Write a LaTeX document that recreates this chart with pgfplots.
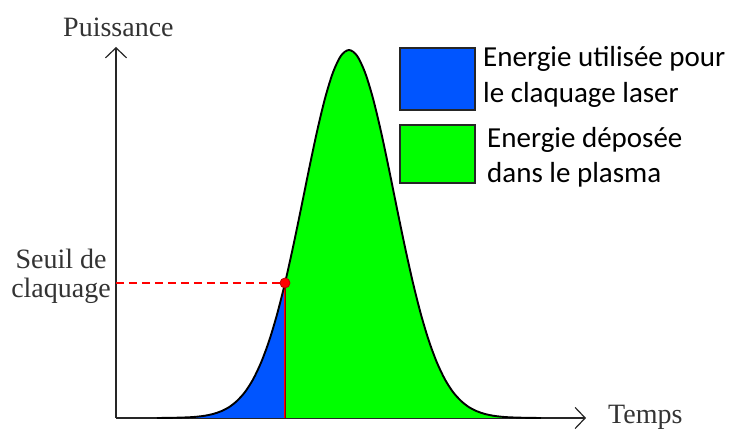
\documentclass[border=0pt]{standalone}
\usepackage{pgfplots}
\pgfplotsset{compat=1.18}
\usetikzlibrary{arrows.meta}
\usepackage{fontspec}
\setmainfont{Liberation Serif}
\newfontfamily\calfont{Carlito}
\definecolor{myblue}{RGB}{0,85,255}
\definecolor{mygreen}{RGB}{0,255,0}
\definecolor{myred}{RGB}{255,0,0}
\begin{document}
\begin{tikzpicture}
\begin{axis}[
  x=1pt, y=1pt,
  xmin=116, xmax=586, ymin=0, ymax=371,
  enlargelimits=false,
  axis lines=left,
  axis line style={line width=1.2pt, black!85, -{Straight Barb[length=10pt,width=21pt,line width=1.2pt]}},
  xtick=\empty, ytick=\empty,
  clip=false,
]
% left part (blue)
\addplot[draw=none, fill=myblue] coordinates {
(173,0.2) (189,0.7) (197,1.3) (205,2.3) (213,4.0) (221,6.7) (229,10.8) (237,17.1)
(245,26.0) (253,38.5) (261,55.3) (269,76.8) (277,103.4) (285,135.0)
} \closedcycle;
% right part (green)
\addplot[draw=none, fill=mygreen] coordinates {
(285,135.0) (293,170.8) (301,209.3) (309,248.7) (317,286.4) (325,319.6) (333,345.6)
(341,362.3) (349,368) (357,362.3) (365,345.6) (373,319.6) (381,286.4) (389,248.7)
(397,209.3) (405,170.8) (413,135.0) (421,103.4) (429,76.8) (437,55.3) (445,38.5)
(453,26.0) (461,17.1) (469,10.8) (477,6.7) (485,4.0) (493,2.3) (501,1.3) (509,0.7)
(525,0.2) (541,0)
} \closedcycle;
% threshold vertical
\addplot[myred!55!black, line width=2.2pt] coordinates {(285,0) (285,135)};
\addplot[myred, line width=1.0pt] coordinates {(285,0) (285,135)};
% curve outline
\addplot[black, line width=1.9pt, smooth] coordinates {
(157,0) (173,0.2) (189,0.7) (197,1.3) (205,2.3) (213,4.0) (221,6.7) (229,10.8) (237,17.1)
(245,26.0) (253,38.5) (261,55.3) (269,76.8) (277,103.4) (285,135.0)
(293,170.8) (301,209.3) (309,248.7) (317,286.4) (325,319.6) (333,345.6)
(341,362.3) (349,368) (357,362.3) (365,345.6) (373,319.6) (381,286.4) (389,248.7)
(397,209.3) (405,170.8) (413,135.0) (421,103.4) (429,76.8) (437,55.3) (445,38.5)
(453,26.0) (461,17.1) (469,10.8) (477,6.7) (485,4.0) (493,2.3) (501,1.3) (509,0.7)
(525,0.2) (541,0)
};
% dashed threshold
\addplot[myred, line width=1.3pt, dash pattern=on 8pt off 5pt] coordinates {(116,135) (285,135)};
\addplot[only marks, mark=*, mark size=5pt, mark options={fill=myred, draw=myred!75!black, line width=0.8pt}] coordinates {(285,135)};
% labels
\node[anchor=base west, inner sep=0pt, font=\fontsize{28}{34}\selectfont, text=black!80] at (axis cs:63,381) {Puissance};
\node[anchor=base west, inner sep=0pt, font=\fontsize{28}{34}\selectfont, text=black!80] at (axis cs:608,-6) {Temps};
\node[anchor=base, inner sep=0pt, font=\fontsize{28}{34}\selectfont, text=black!80] at (axis cs:61,149) {Seuil de};
\node[anchor=base, inner sep=0pt, font=\fontsize{28}{34}\selectfont, text=black!80] at (axis cs:61,120) {claquage};
% legend
\draw[line width=1.5pt, black!85, fill=myblue] (axis cs:400,308) rectangle (axis cs:475,370);
\draw[line width=1.5pt, black!85, fill=mygreen] (axis cs:400,235) rectangle (axis cs:475,293);
\node[anchor=base west, inner sep=0pt, font=\calfont\fontsize{29}{36}\selectfont] at (axis cs:483,351.3) {Energie utilisée pour};
\node[anchor=base west, inner sep=0pt, font=\calfont\fontsize{29}{36}\selectfont] at (axis cs:483,315.3) {le claquage laser};
\node[anchor=base west, inner sep=0pt, font=\calfont\fontsize{29}{36}\selectfont] at (axis cs:487,270) {Energie déposée};
\node[anchor=base west, inner sep=0pt, font=\calfont\fontsize{29}{36}\selectfont] at (axis cs:487,235) {dans le plasma};
% bounding box
\path[use as bounding box] (axis cs:0,-12) rectangle (axis cs:734,418);
\end{axis}
\end{tikzpicture}
\end{document}
